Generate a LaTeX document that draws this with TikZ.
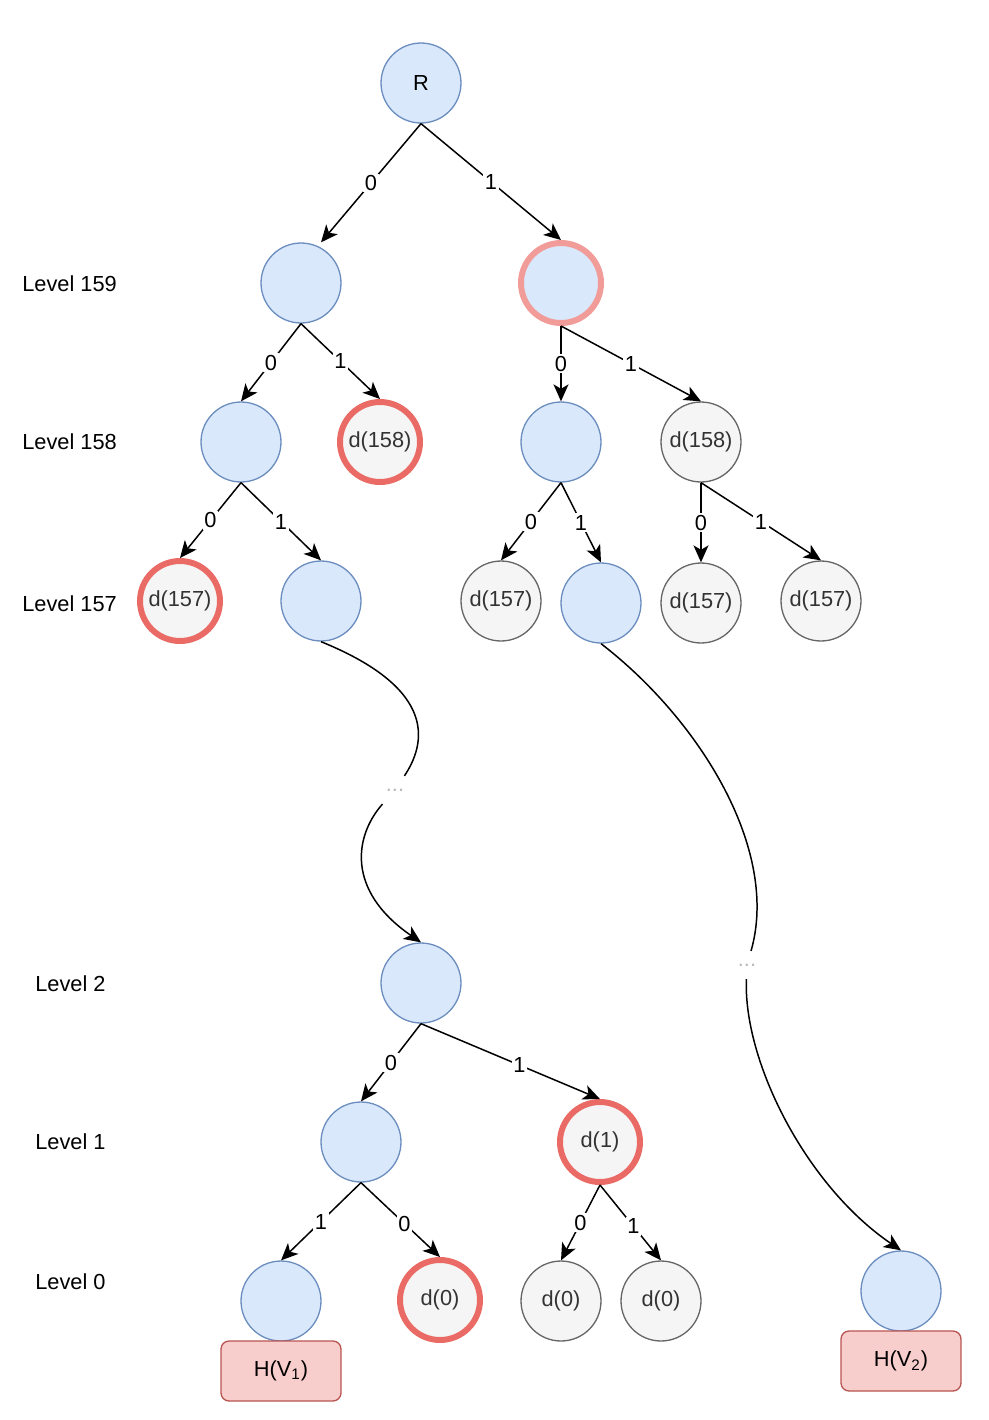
\documentclass[tikz,border=0pt]{standalone}
\usepackage{fontspec}
\setmainfont{Liberation Sans}
\usetikzlibrary{calc,arrows.meta}

\definecolor{blueFill}{HTML}{DAE8FC}
\definecolor{blueLine}{HTML}{6C8EBF}
\definecolor{grayFill}{HTML}{F5F5F5}
\definecolor{grayLine}{HTML}{666666}
\definecolor{grayText}{HTML}{333333}
\definecolor{redLine}{HTML}{EA6B66}
\definecolor{pinkLine}{HTML}{F19C99}
\definecolor{hashFill}{HTML}{F8CECC}
\definecolor{hashLine}{HTML}{B85450}

\tikzset{
    every node/.style={font=\fontsize{12.4}{15}\selectfont},
    bnode/.style={circle, draw=blueLine, fill=blueFill, line width=0.75pt, minimum size=1.6cm, inner sep=0pt},
    dnode/.style={circle, draw=grayLine, fill=grayFill, text=grayText, line width=0.75pt, minimum size=1.6cm, inner sep=0pt},
    hit/.style={draw=redLine, line width=3.4pt},
    hitpale/.style={draw=pinkLine, line width=3.4pt},
    hbox/.style={rectangle, rounded corners=0.16cm, draw=hashLine, fill=hashFill, line width=0.75pt, minimum width=2.4cm, minimum height=1.2cm},
    lvl/.style={anchor=west, inner sep=0pt},
    bit/.style={fill=white, inner sep=1pt},
    gap/.style={text=gray!55, minimum width=0.5cm, minimum height=0.55cm, inner sep=0pt},
    wire/.style={line width=0.85pt},
    edge/.style={wire, -{Stealth[length=0.34cm, width=0.3cm, inset=0.09cm]}}
}

\begin{document}
\begin{tikzpicture}[x=0.02cm, y=-0.02cm]
    \useasboundingbox (0,0) rectangle (988,1420);

    \node[lvl] (lv159) at (22,284) {Level 159};
    \node[lvl] (lv158) at (22,442) {Level 158};
    \node[lvl] (lv157) at (22,604) {Level 157};
    \node[lvl] (lv2) at (35,984) {Level 2};
    \node[lvl] (lv1) at (35,1142) {Level 1};
    \node[lvl] (lv0) at (35,1282) {Level 0};

    \node[bnode] (R) at (421,83) {R};
    \node[bnode] (n159a) at (301,283) {};
    \node[bnode, hitpale] (n159b) at (561,283) {};
    \node[bnode] (n158a) at (241,442) {};
    \node[dnode, hit] (n158b) at (380,442) {d(158)};
    \node[bnode] (n158c) at (561,442) {};
    \node[dnode] (n158d) at (701,442) {d(158)};
    \node[dnode, hit] (n157a) at (180,601) {d(157)};
    \node[bnode] (n157b) at (321,601) {};
    \node[dnode] (n157c) at (501,601) {d(157)};
    \node[bnode] (n157d) at (601,603) {};
    \node[dnode] (n157e) at (701,603) {d(157)};
    \node[dnode] (n157f) at (821,601) {d(157)};

    \node[bnode] (n2) at (421,983) {};
    \node[bnode] (n1a) at (361,1142) {};
    \node[dnode, hit] (n1b) at (600,1142) {d(1)};
    \node[bnode] (n0a) at (281,1301) {};
    \node[dnode, hit] (n0b) at (440,1300) {d(0)};
    \node[dnode] (n0c) at (561,1301) {d(0)};
    \node[dnode] (n0d) at (661,1301) {d(0)};
    \node[bnode] (n0e) at (901,1291) {};

    \node[hbox] (hv1) at (281,1371) {H(V\textsubscript{1})};
    \node[hbox] (hv2) at (901,1361) {H(V\textsubscript{2})};

    \node[gap] (gapA) at (395,790) {...};
    \node[gap] (gapB) at (747,965) {...};

    \draw[edge] (R.south) -- node[bit] {0} ($(n159a.north)+(20,0)$);
    \draw[edge] (R.south) -- node[bit] {1} (n159b.north);
    \draw[edge] (n159a.south) -- node[bit] {0} (n158a.north);
    \draw[edge] (n159a.south) -- node[bit] {1} (n158b.north);
    \draw[edge] (n159b.south) -- node[bit] {0} (n158c.north);
    \draw[edge] (n159b.south) -- node[bit] {1} (n158d.north);
    \draw[edge] (n158a.south) -- node[bit] {0} (n157a.north);
    \draw[edge] (n158a.south) -- node[bit] {1} (n157b.north);
    \draw[edge] (n158c.south) -- node[bit] {0} (n157c.north);
    \draw[edge] (n158c.south) -- node[bit] {1} (n157d.north);
    \draw[edge] (n158d.south) -- node[bit] {0} (n157e.north);
    \draw[edge] (n158d.south) -- node[bit] {1} (n157f.north);

    \draw[edge] (n2.south) -- node[bit] {0} (n1a.north);
    \draw[edge] (n2.south) -- node[bit, pos=0.55] {1} (n1b.north);
    \draw[edge] (n1a.south) -- node[bit] {1} (n0a.north);
    \draw[edge] (n1a.south) -- node[bit, pos=0.55] {0} (n0b.north);
    \draw[edge] (n1b.south) -- node[bit] {0} (n0c.north);
    \draw[edge] (n1b.south) -- node[bit, pos=0.55] {1} (n0d.north);

    \draw[wire] (n157b.south) .. controls (440,690) and (425,745) .. (gapA);
    \draw[edge] (gapA) .. controls (355,835) and (345,890) .. (n2.north);
    \draw[wire] (n157d.south) .. controls (700,720) and (780,850) .. (gapB);
    \draw[edge] (gapB) .. controls (743,1060) and (805,1185) .. (n0e.north);
\end{tikzpicture}
\end{document}
